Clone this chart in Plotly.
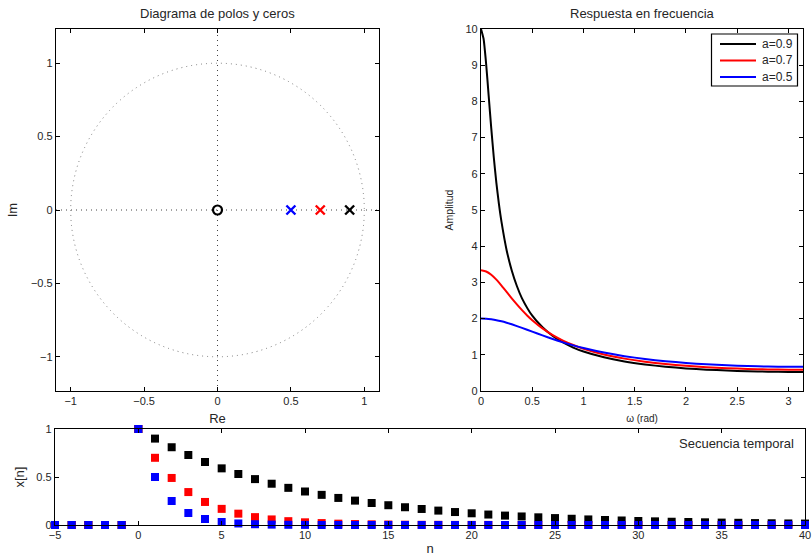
import plotly.graph_objects as go

# ---------------- data ----------------
zero_re = [0.0]
zero_im = [0.0]
pole_re = [0.9, 0.7, 0.5]
pole_im = [0.0, 0.0, 0.0]
pole_colors = ["#000000", "#ff0000", "#0000ff"]

w_09 = [0, 0.025, 0.05, 0.075, 0.1, 0.125, 0.15, 0.175, 0.2, 0.25, 0.3, 0.35, 0.4,
        0.5, 0.6, 0.7, 0.8, 0.9, 1.0, 1.2, 1.4, 1.6, 1.8, 2.0, 2.2, 2.4, 2.6, 2.8, 3.0, 3.1416]
h_09 = [10.0, 9.73, 9.04, 8.15, 7.26, 6.45, 5.75, 5.16, 4.67, 3.89, 3.33, 2.90, 2.56,
        2.08, 1.76, 1.52, 1.34, 1.20, 1.09, 0.93, 0.815, 0.733, 0.671, 0.625, 0.590, 0.565,
        0.546, 0.534, 0.528, 0.526]

w_07 = [0, 0.05, 0.1, 0.15, 0.2, 0.25, 0.3, 0.35, 0.4, 0.45, 0.5, 0.6, 0.7, 0.8, 0.9,
        1.0, 1.2, 1.4, 1.6, 1.8, 2.0, 2.2, 2.4, 2.6, 2.8, 3.0, 3.1416]
h_07 = [3.333, 3.301, 3.211, 3.076, 2.912, 2.737, 2.560, 2.391, 2.233, 2.088, 1.956,
        1.729, 1.544, 1.394, 1.270, 1.168, 1.009, 0.894, 0.808, 0.744, 0.695, 0.657,
        0.630, 0.610, 0.597, 0.590, 0.588]

w_05 = [0, 0.05, 0.1, 0.15, 0.2, 0.25, 0.3, 0.4, 0.5, 0.6, 0.7, 0.8, 0.9, 1.0, 1.2,
        1.4, 1.6, 1.8, 2.0, 2.2, 2.4, 2.6, 2.8, 3.0, 3.1416]
h_05 = [2.0, 1.995, 1.980, 1.957, 1.925, 1.886, 1.842, 1.744, 1.639, 1.535, 1.436,
        1.344, 1.261, 1.187, 1.061, 0.962, 0.884, 0.823, 0.775, 0.738, 0.709, 0.689,
        0.675, 0.668, 0.667]

n = list(range(-5, 41))
x_09 = [0, 0, 0, 0, 0,
        1.0, 0.9, 0.81, 0.729, 0.656, 0.590, 0.531, 0.478, 0.430, 0.387, 0.349,
        0.314, 0.282, 0.254, 0.229, 0.206, 0.185, 0.167, 0.150, 0.135, 0.122,
        0.109, 0.098, 0.089, 0.080, 0.072, 0.065, 0.058, 0.052, 0.047, 0.042,
        0.038, 0.034, 0.031, 0.028, 0.025, 0.023, 0.020, 0.018, 0.016, 0.015]
x_07 = [0, 0, 0, 0, 0,
        1.0, 0.7, 0.49, 0.343, 0.240, 0.168, 0.118, 0.082, 0.058, 0.040, 0.028,
        0.020, 0.014, 0.010, 0.007, 0.005, 0.003, 0.002, 0.002, 0.001, 0.001,
        0.001, 0, 0, 0, 0, 0, 0, 0, 0, 0, 0, 0, 0, 0, 0, 0, 0, 0, 0, 0]
x_05 = [0, 0, 0, 0, 0,
        1.0, 0.5, 0.25, 0.125, 0.0625, 0.031, 0.016, 0.008, 0.004, 0.002, 0.001,
        0, 0, 0, 0, 0, 0, 0, 0, 0, 0, 0, 0, 0, 0, 0, 0, 0, 0, 0, 0,
        0, 0, 0, 0, 0, 0, 0, 0, 0, 0]

labels = ["a=0.9", "a=0.7", "a=0.5"]
series_colors = ["#000000", "#ff0000", "#0000ff"]

# ---------------- figure ----------------
W, H = 812, 559
TXT = "#262626"
FONT = "Liberation Sans, Arial, Helvetica, sans-serif"

def px_x(p):
    return p / W

def px_y(p):
    return 1 - p / H

fig = go.Figure()

# pole-zero plot
fig.add_trace(go.Scatter(x=zero_re, y=zero_im, mode="markers", xaxis="x", yaxis="y",
                         marker=dict(symbol="circle-open", size=9, color="black",
                                     line=dict(width=2.2, color="black")),
                         showlegend=False, cliponaxis=False))
for i in range(len(pole_re)):
    fig.add_trace(go.Scatter(x=[pole_re[i]], y=[pole_im[i]], mode="markers",
                             xaxis="x", yaxis="y",
                             marker=dict(symbol="x-thin-open", size=9, color=pole_colors[i],
                                         line=dict(width=2.4, color=pole_colors[i])),
                             showlegend=False))

# frequency response
for wv, hv, c, lab in [(w_09, h_09, series_colors[0], labels[0]),
                       (w_07, h_07, series_colors[1], labels[1]),
                       (w_05, h_05, series_colors[2], labels[2])]:
    fig.add_trace(go.Scatter(x=wv, y=hv, mode="lines", xaxis="x2", yaxis="y2",
                             line=dict(color=c, width=2, shape="spline", smoothing=0.5),
                             name=lab, showlegend=False))

# time sequence
for yv, c in [(x_09, series_colors[0]), (x_07, series_colors[1]), (x_05, series_colors[2])]:
    fig.add_trace(go.Scatter(x=n, y=yv, mode="markers", xaxis="x3", yaxis="y3",
                             marker=dict(symbol="square", size=8, color=c,
                                         line=dict(width=0)),
                             showlegend=False, cliponaxis=False))

axis_common = dict(showline=True, linecolor="black", linewidth=1.3, mirror="ticks",
                   ticks="inside", ticklen=4, tickwidth=1, tickcolor="black",
                   showgrid=False, zeroline=False, automargin=False,
                   tickfont=dict(family=FONT, size=11, color=TXT))

# legend box (MATLAB style), drawn in paper pixels
leg_x0, leg_x1, leg_y0, leg_y1 = 711.5, 797.5, 34, 86
leg_rows = [44, 60.5, 77]
shapes = [
    dict(type="circle", xref="x", yref="y", x0=-1, y0=-1, x1=1, y1=1,
         line=dict(color="#7a7a7a", width=1, dash="1px,4px"), layer="below"),
    dict(type="line", xref="x domain", yref="y", x0=0, x1=1, y0=0, y1=0,
         line=dict(color="#444444", width=1, dash="1px,4px"), layer="below"),
    dict(type="line", xref="x", yref="y domain", x0=0, x1=0, y0=0, y1=1,
         line=dict(color="#444444", width=1, dash="1px,4px"), layer="below"),
    dict(type="rect", xref="paper", yref="paper",
         x0=px_x(leg_x0), x1=px_x(leg_x1), y0=px_y(leg_y1), y1=px_y(leg_y0),
         line=dict(color="black", width=1.2), fillcolor="white", layer="above"),
]
annotations = [
    dict(text="Diagrama de polos y ceros", xref="paper", yref="paper",
         x=px_x(217.5), y=px_y(13), xanchor="center", yanchor="middle",
         showarrow=False, font=dict(size=13, color=TXT)),
    dict(text="Respuesta en frecuencia", xref="paper", yref="paper",
         x=px_x(642), y=px_y(13), xanchor="center", yanchor="middle",
         showarrow=False, font=dict(size=13, color=TXT)),
    dict(text="Secuencia temporal", xref="paper", yref="paper",
         x=px_x(796), y=px_y(443), xanchor="right", yanchor="middle",
         showarrow=False, font=dict(size=13, color=TXT)),
]
for lab, c, ry in zip(labels, series_colors, leg_rows):
    shapes.append(dict(type="line", xref="paper", yref="paper",
                       x0=px_x(720), x1=px_x(756), y0=px_y(ry), y1=px_y(ry),
                       line=dict(color=c, width=2), layer="above"))
    annotations.append(dict(text=lab, xref="paper", yref="paper",
                            x=px_x(760), y=px_y(ry), xanchor="left", yanchor="middle",
                            showarrow=False, font=dict(size=12, color=TXT)))

fig.update_layout(
    width=W, height=H, autosize=False,
    margin=dict(l=0, r=0, t=0, b=0),
    paper_bgcolor="white", plot_bgcolor="white",
    font=dict(family=FONT, color=TXT),
    showlegend=False,
    xaxis=dict(domain=[px_x(56), px_x(379)], anchor="y", range=[-1.1, 1.1],
               tickvals=[-1, -0.5, 0, 0.5, 1],
               title=dict(text="Re", font=dict(size=13, color=TXT), standoff=7),
               **axis_common),
    yaxis=dict(domain=[px_y(391), px_y(29)], anchor="x", range=[-1.233, 1.233],
               tickvals=[-1, -0.5, 0, 0.5, 1],
               title=dict(text="Im", font=dict(size=13, color=TXT), standoff=10),
               **axis_common),
    xaxis2=dict(domain=[px_x(481), px_x(803)], anchor="y2", range=[0, 3.1416],
                tickvals=[0, 0.5, 1, 1.5, 2, 2.5, 3],
                title=dict(text="ω (rad)", font=dict(size=10, color=TXT), standoff=8),
                **axis_common),
    yaxis2=dict(domain=[px_y(391), px_y(29)], anchor="x2", range=[0, 10],
                tickvals=list(range(0, 11)),
                title=dict(text="Amplitud", font=dict(size=10.5, color=TXT), standoff=9),
                **axis_common),
    xaxis3=dict(domain=[px_x(55), px_x(805)], anchor="y3", range=[-5, 40],
                tickvals=list(range(-5, 41, 5)),
                title=dict(text="n", font=dict(size=13, color=TXT), standoff=3),
                **axis_common),
    yaxis3=dict(domain=[px_y(525), px_y(429)], anchor="x3", range=[0, 1],
                tickvals=[0, 0.5, 1],
                title=dict(text="x[n]", font=dict(size=13, color=TXT), standoff=8),
                **axis_common),
    shapes=shapes,
    annotations=annotations,
)

fig.write_html("out.html",
               config={"displayModeBar": False},
               post_script="document.body.style.margin='0';document.body.style.overflow='hidden';")
